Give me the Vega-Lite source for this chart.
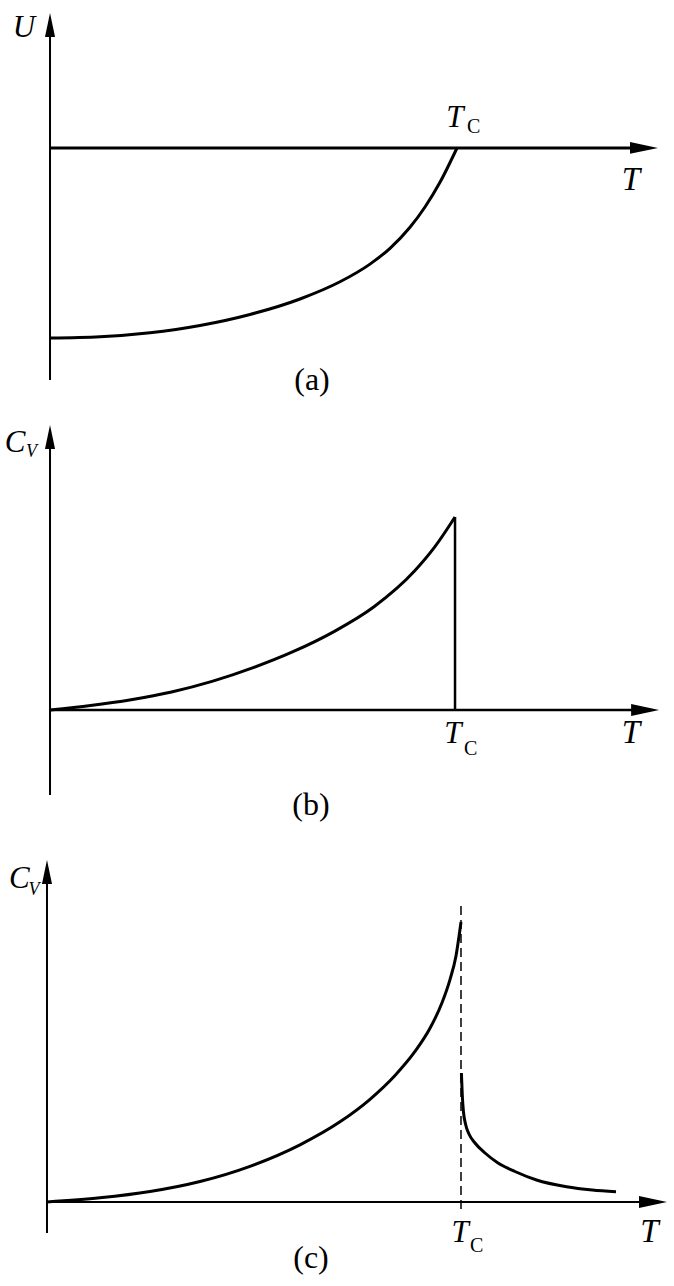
{
  "$schema": "https://vega.github.io/schema/vega-lite/v6.json",
  "padding": 0,
  "spacing": 0,
  "background": "white",
  "config": {
    "view": {"stroke": null},
    "axis": {"disable": true},
    "text": {"font": "Liberation Serif", "color": "black", "baseline": "alphabetic", "align": "center"}
  },
  "vconcat": [
    {
      "width": 674,
      "height": 420,
      "layer": [
        {
          "data": {"values": [
            {"T": 0, "U": -1.0}, {"T": 0.1229, "U": -0.9934}, {"T": 0.2457, "U": -0.9724}, {"T": 0.3686, "U": -0.9342},
            {"T": 0.4914, "U": -0.8763}, {"T": 0.6143, "U": -0.7947}, {"T": 0.7125, "U": -0.7042}, {"T": 0.7862, "U": -0.6111},
            {"T": 0.8354, "U": -0.5279}, {"T": 0.8845, "U": -0.4174}, {"T": 0.9214, "U": -0.3105}, {"T": 0.9582, "U": -0.1805},
            {"T": 1.0, "U": 0}
          ]},
          "mark": {"type": "line", "color": "black", "strokeWidth": 3, "interpolate": "monotone"},
          "encoding": {
            "x": {"field": "T", "type": "quantitative", "scale": {"domain": [-0.1229, 1.5332], "nice": false, "zero": false}, "axis": null},
            "y": {"field": "U", "type": "quantitative", "scale": {"domain": [-1.4316, 0.7789], "nice": false, "zero": false}, "axis": null}
          }
        },
        {
          "data": {"values": [{}]},
          "mark": {"type": "rule", "color": "black", "strokeWidth": 2},
          "encoding": {"x": {"datum": 0}, "y": {"datum": -1.221}, "y2": {"datum": 0.69}}
        },
        {
          "data": {"values": [{}]},
          "mark": {"type": "rule", "color": "black", "strokeWidth": 3},
          "encoding": {"y": {"datum": 0}, "x": {"datum": 0}, "x2": {"datum": 1.47}}
        },
        {
          "data": {"values": [{}]},
          "mark": {"type": "point", "shape": "M0,0L0.42,2L-0.42,2Z", "size": 576, "filled": true, "color": "black", "opacity": 1, "strokeWidth": 0},
          "encoding": {"x": {"datum": 0}, "y": {"datum": 0.7105}}
        },
        {
          "data": {"values": [{}]},
          "mark": {"type": "point", "shape": "M0,0L-2,-0.42L-2,0.42Z", "size": 784, "filled": true, "color": "black", "opacity": 1, "strokeWidth": 0},
          "encoding": {"x": {"datum": 1.4939}, "y": {"datum": 0}}
        },
        {
          "data": {"values": [{}]},
          "mark": {"type": "text", "text": "U", "fontSize": 31, "fontStyle": "italic"},
          "encoding": {"x": {"datum": -0.0639}, "y": {"datum": 0.584}}
        },
        {
          "data": {"values": [{}]},
          "mark": {"type": "text", "text": "T", "fontSize": 31, "fontStyle": "italic"},
          "encoding": {"x": {"datum": 0.995}, "y": {"datum": 0.1105}}
        },
        {
          "data": {"values": [{}]},
          "mark": {"type": "text", "text": "C", "fontSize": 20, "align": "left"},
          "encoding": {"x": {"datum": 1.0246}, "y": {"datum": 0.079}}
        },
        {
          "data": {"values": [{}]},
          "mark": {"type": "text", "text": "T", "fontSize": 33, "fontStyle": "italic"},
          "encoding": {"x": {"datum": 1.4275}, "y": {"datum": -0.221}}
        },
        {
          "data": {"values": [{}]},
          "mark": {"type": "text", "text": "(a)", "fontSize": 32},
          "encoding": {"x": {"datum": 0.6437}, "y": {"datum": -1.2737}}
        }
      ]
    },
    {
      "width": 674,
      "height": 430,
      "layer": [
        {
          "data": {"values": [
            {"T": 0, "Cv": 0}, {"T": 0.1, "Cv": 0.023}, {"T": 0.2, "Cv": 0.053}, {"T": 0.3, "Cv": 0.093},
            {"T": 0.4, "Cv": 0.148}, {"T": 0.5, "Cv": 0.218}, {"T": 0.6, "Cv": 0.302}, {"T": 0.7, "Cv": 0.405},
            {"T": 0.8, "Cv": 0.535}, {"T": 0.9, "Cv": 0.72}, {"T": 0.95, "Cv": 0.845}, {"T": 1.0, "Cv": 1.0}
          ]},
          "mark": {"type": "line", "color": "black", "strokeWidth": 3, "interpolate": "monotone"},
          "encoding": {
            "x": {"field": "T", "type": "quantitative", "scale": {"domain": [-0.1235, 1.5407], "nice": false, "zero": false}, "axis": null},
            "y": {"field": "Cv", "type": "quantitative", "scale": {"domain": [-0.7254, 1.5026], "nice": false, "zero": false}, "axis": null}
          }
        },
        {
          "data": {"values": [{}]},
          "mark": {"type": "rule", "color": "black", "strokeWidth": 2},
          "encoding": {"x": {"datum": 0}, "y": {"datum": -0.4404}, "y2": {"datum": 1.45}}
        },
        {
          "data": {"values": [{}]},
          "mark": {"type": "rule", "color": "black", "strokeWidth": 2.5},
          "encoding": {"y": {"datum": 0}, "x": {"datum": 0}, "x2": {"datum": 1.48}}
        },
        {
          "data": {"values": [{}]},
          "mark": {"type": "rule", "color": "black", "strokeWidth": 2.5},
          "encoding": {"x": {"datum": 1.0}, "y": {"datum": 0}, "y2": {"datum": 1.0}}
        },
        {
          "data": {"values": [{}]},
          "mark": {"type": "point", "shape": "M0,0L0.42,2L-0.42,2Z", "size": 576, "filled": true, "color": "black", "opacity": 1, "strokeWidth": 0},
          "encoding": {"x": {"datum": 0}, "y": {"datum": 1.4767}}
        },
        {
          "data": {"values": [{}]},
          "mark": {"type": "point", "shape": "M0,0L-2,-0.42L-2,0.42Z", "size": 784, "filled": true, "color": "black", "opacity": 1, "strokeWidth": 0},
          "encoding": {"x": {"datum": 1.504}, "y": {"datum": 0}}
        },
        {
          "data": {"values": [{}]},
          "mark": {"type": "text", "text": "C", "fontSize": 31, "fontStyle": "italic"},
          "encoding": {"x": {"datum": -0.0864}, "y": {"datum": 1.3368}}
        },
        {
          "data": {"values": [{}]},
          "mark": {"type": "text", "text": "V", "fontSize": 18, "fontStyle": "italic", "align": "left"},
          "encoding": {"x": {"datum": -0.0593}, "y": {"datum": 1.3109}}
        },
        {
          "data": {"values": [{}]},
          "mark": {"type": "text", "text": "T", "fontSize": 31, "fontStyle": "italic"},
          "encoding": {"x": {"datum": 0.995}, "y": {"datum": -0.171}}
        },
        {
          "data": {"values": [{}]},
          "mark": {"type": "text", "text": "C", "fontSize": 20, "align": "left"},
          "encoding": {"x": {"datum": 1.0222}, "y": {"datum": -0.2332}}
        },
        {
          "data": {"values": [{}]},
          "mark": {"type": "text", "text": "T", "fontSize": 33, "fontStyle": "italic"},
          "encoding": {"x": {"datum": 1.4346}, "y": {"datum": -0.171}}
        },
        {
          "data": {"values": [{}]},
          "mark": {"type": "text", "text": "(b)", "fontSize": 32},
          "encoding": {"x": {"datum": 0.6444}, "y": {"datum": -0.544}}
        }
      ]
    },
    {
      "width": 674,
      "height": 436,
      "layer": [
        {
          "data": {"values": [
            {"branch": "low", "T": 0, "Cv": 0}, {"branch": "low", "T": 0.128, "Cv": 0.015}, {"branch": "low", "T": 0.2488, "Cv": 0.0375},
            {"branch": "low", "T": 0.3696, "Cv": 0.0732}, {"branch": "low", "T": 0.4903, "Cv": 0.1275}, {"branch": "low", "T": 0.6111, "Cv": 0.2043},
            {"branch": "low", "T": 0.7077, "Cv": 0.2864}, {"branch": "low", "T": 0.7802, "Cv": 0.3668}, {"branch": "low", "T": 0.8406, "Cv": 0.4518},
            {"branch": "low", "T": 0.8889, "Cv": 0.5375}, {"branch": "low", "T": 0.9251, "Cv": 0.6204}, {"branch": "low", "T": 0.9541, "Cv": 0.7114},
            {"branch": "low", "T": 0.9734, "Cv": 0.7943}, {"branch": "low", "T": 0.9879, "Cv": 0.8789}, {"branch": "low", "T": 1.0, "Cv": 1.0},
            {"branch": "high", "T": 1.001, "Cv": 0.4607}, {"branch": "high", "T": 1.0031, "Cv": 0.3821}, {"branch": "high", "T": 1.006, "Cv": 0.3214},
            {"branch": "high", "T": 1.0109, "Cv": 0.2786}, {"branch": "high", "T": 1.0193, "Cv": 0.2429}, {"branch": "high", "T": 1.0338, "Cv": 0.2107},
            {"branch": "high", "T": 1.058, "Cv": 0.175}, {"branch": "high", "T": 1.0894, "Cv": 0.1393}, {"branch": "high", "T": 1.1304, "Cv": 0.1089},
            {"branch": "high", "T": 1.1824, "Cv": 0.0786}, {"branch": "high", "T": 1.2548, "Cv": 0.0546}, {"branch": "high", "T": 1.3171, "Cv": 0.0429},
            {"branch": "high", "T": 1.3744, "Cv": 0.0368}
          ]},
          "mark": {"type": "line", "color": "black", "strokeWidth": 3, "interpolate": "monotone"},
          "encoding": {
            "x": {"field": "T", "type": "quantitative", "scale": {"domain": [-0.1135, 1.5145], "nice": false, "zero": false}, "axis": null},
            "y": {"field": "Cv", "type": "quantitative", "scale": {"domain": [-0.3, 1.2571], "nice": false, "zero": false}, "axis": null},
            "detail": {"field": "branch", "type": "nominal"}
          }
        },
        {
          "data": {"values": [{}]},
          "mark": {"type": "rule", "color": "black", "strokeWidth": 2},
          "encoding": {"x": {"datum": 0}, "y": {"datum": -0.1107}, "y2": {"datum": 1.19}}
        },
        {
          "data": {"values": [{}]},
          "mark": {"type": "rule", "color": "black", "strokeWidth": 2},
          "encoding": {"y": {"datum": 0}, "x": {"datum": 0}, "x2": {"datum": 1.47}}
        },
        {
          "data": {"values": [{}]},
          "mark": {"type": "rule", "color": "black", "strokeWidth": 1.5, "strokeDash": [9, 5]},
          "encoding": {"x": {"datum": 1.0}, "y": {"datum": -0.025}, "y2": {"datum": 1.0607}}
        },
        {
          "data": {"values": [{}]},
          "mark": {"type": "point", "shape": "M0,0L0.42,2L-0.42,2Z", "size": 576, "filled": true, "color": "black", "opacity": 1, "strokeWidth": 0},
          "encoding": {"x": {"datum": 0}, "y": {"datum": 1.2214}}
        },
        {
          "data": {"values": [{}]},
          "mark": {"type": "point", "shape": "M0,0L-2,-0.42L-2,0.42Z", "size": 784, "filled": true, "color": "black", "opacity": 1, "strokeWidth": 0},
          "encoding": {"x": {"datum": 1.4976}, "y": {"datum": 0}}
        },
        {
          "data": {"values": [{}]},
          "mark": {"type": "text", "text": "C", "fontSize": 31, "fontStyle": "italic"},
          "encoding": {"x": {"datum": -0.0669}, "y": {"datum": 1.1214}}
        },
        {
          "data": {"values": [{}]},
          "mark": {"type": "text", "text": "V", "fontSize": 18, "fontStyle": "italic", "align": "left"},
          "encoding": {"x": {"datum": -0.0447}, "y": {"datum": 1.0964}}
        },
        {
          "data": {"values": [{}]},
          "mark": {"type": "text", "text": "T", "fontSize": 31, "fontStyle": "italic"},
          "encoding": {"x": {"datum": 0.9976}, "y": {"datum": -0.1429}}
        },
        {
          "data": {"values": [{}]},
          "mark": {"type": "text", "text": "C", "fontSize": 20, "align": "left"},
          "encoding": {"x": {"datum": 1.0217}, "y": {"datum": -0.1786}}
        },
        {
          "data": {"values": [{}]},
          "mark": {"type": "text", "text": "T", "fontSize": 33, "fontStyle": "italic"},
          "encoding": {"x": {"datum": 1.4553}, "y": {"datum": -0.1429}}
        },
        {
          "data": {"values": [{}]},
          "mark": {"type": "text", "text": "(c)", "fontSize": 32},
          "encoding": {"x": {"datum": 0.6377}, "y": {"datum": -0.2357}}
        }
      ]
    }
  ]
}
